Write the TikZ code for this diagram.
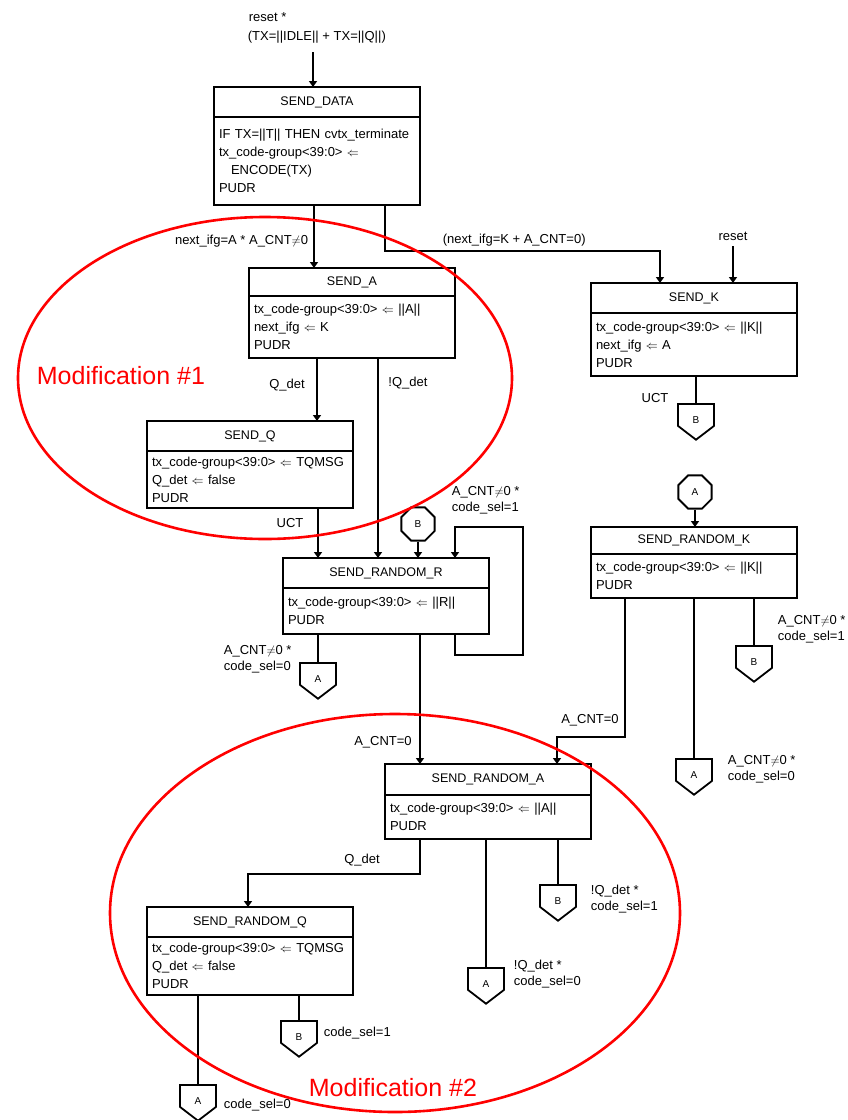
\documentclass[tikz,border=0pt]{standalone}
\usepackage{fontspec}
\setmainfont{Liberation Sans}
\usetikzlibrary{arrows.meta,shapes.geometric,shapes.symbols,positioning}

\tikzset{
  state/.style={draw, minimum width=206pt, minimum height=30pt, inner sep=0pt, outer sep=0pt,
    font=\fontsize{12.5}{14}\selectfont},
  action/.style={draw, anchor=north, text width=196pt, inner xsep=5pt, inner ysep=2pt, outer sep=0pt,
    align=left, font=\fontsize{13}{18}\selectfont},
  arr/.style={-{Triangle[width=8pt,length=6pt]}},
  cond/.style={inner sep=0pt, align=left, font=\fontsize{13}{16}\selectfont},
  offpage/.style={signal, signal to=south, signal from=nowhere, draw, anchor=north,
    minimum width=36pt, minimum height=22pt, signal pointer angle=105, inner sep=0pt,
    label={[inner sep=0pt, yshift=-5pt, font=\fontsize{10}{12}\selectfont]center:#1}},
  onpage/.style={regular polygon, regular polygon sides=8, draw, minimum size=36pt,
    inner sep=0pt, font=\fontsize{10}{12}\selectfont},
  modring/.style={draw=red, line width=2.6pt},
  modtext/.style={text=red, inner sep=0pt, font=\fontsize{25}{28}\selectfont}
}

\begin{document}
\begin{tikzpicture}[x=1pt, y=-1pt, line width=1.8pt]
    \useasboundingbox (0,0) rectangle (848,1120);

    % states
    \node[state] (sd) at (317,102) {SEND\_DATA};
    \node[action, minimum height=88pt] (sdb) at (sd.south) {IF TX=||T|| THEN cvtx\_terminate\\tx\_code-group<39:0> $\Leftarrow$\\\hspace*{12pt}ENCODE(TX)\\PUDR};

    \node[state, minimum height=28pt] (sa) at (352,282) {SEND\_A};
    \node[action, minimum height=62pt] (sab) at (sa.south) {tx\_code-group<39:0> $\Leftarrow$ ||A||\\next\_ifg $\Leftarrow$ K\\PUDR};

    \node[state] (sk) at (694,298) {SEND\_K};
    \node[action, minimum height=63pt] (skb) at (sk.south) {tx\_code-group<39:0> $\Leftarrow$ ||K||\\next\_ifg $\Leftarrow$ A\\PUDR};

    \node[state] (sq) at (250,436) {SEND\_Q};
    \node[action, minimum height=57pt] (sqb) at (sq.south) {tx\_code-group<39:0> $\Leftarrow$ TQMSG\\Q\_det $\Leftarrow$ false\\PUDR};

    \node[state] (srr) at (386,573) {SEND\_RANDOM\_R};
    \node[action, minimum height=46pt] (srrb) at (srr.south) {tx\_code-group<39:0> $\Leftarrow$ ||R||\\PUDR};

    \node[state, minimum height=27pt] (srk) at (694,540.5) {SEND\_RANDOM\_K};
    \node[action, minimum height=44pt] (srkb) at (srk.south) {tx\_code-group<39:0> $\Leftarrow$ ||K||\\PUDR};

    \node[state, minimum height=31pt] (sra) at (488,779.5) {SEND\_RANDOM\_A};
    \node[action, minimum height=44pt] (srab) at (sra.south) {tx\_code-group<39:0> $\Leftarrow$ ||A||\\PUDR};

    \node[state] (srq) at (250,922) {SEND\_RANDOM\_Q};
    \node[action, minimum height=58pt] (srqb) at (srq.south) {tx\_code-group<39:0> $\Leftarrow$ TQMSG\\Q\_det $\Leftarrow$ false\\PUDR};

    % connectors
    \node[onpage] (ob) at (418,524) {B};
    \node[onpage] (oa) at (695,492) {A};
    \node[offpage=B] (kb) at (696,403) {};
    \node[offpage=A] (ra) at (318,662) {};
    \node[offpage=B] (rkb) at (754,645) {};
    \node[offpage=A] (rka) at (694,758) {};
    \node[offpage=B] (rab) at (558,884) {};
    \node[offpage=A] (raa) at (486,967) {};
    \node[offpage=B] (rqb) at (299,1020) {};
    \node[offpage=A] (rqa) at (198,1084) {};

    % transitions
    \coordinate (rst) at (313,52);
    \draw[arr] (rst) -- (rst |- sd.north);

    \coordinate (c1) at ([xshift=-3pt]sdb.south);
    \draw[arr] (c1) -- (c1 |- sa.north);
    \coordinate (c2) at ([xshift=68pt]sdb.south);
    \coordinate (kin) at (660,251);
    \draw[arr] (c2) |- (kin) -- (kin |- sk.north);
    \coordinate (krst) at (733,246);
    \draw[arr] (krst) -- (krst |- sk.north);

    \coordinate (c3) at ([xshift=-35pt]sab.south);
    \draw[arr] (c3) -- (c3 |- sq.north);
    \coordinate (c4) at ([xshift=26pt]sab.south);
    \draw[arr] (c4) -- (c4 |- srr.north);
    \coordinate (c5) at ([xshift=68pt]sqb.south);
    \draw[arr] (c5) -- (c5 |- srr.north);
    \draw[arr] (ob.south) -- (ob.south |- srr.north);

    \coordinate (c6) at ([xshift=69pt]srrb.south);
    \coordinate (lpa) at (523,655);
    \coordinate (lpb) at (523,527);
    \draw[arr] (c6) |- (lpa) -- (lpb) -| (c6 |- srr.north);
    \draw (ra.north |- srrb.south) -- (ra.north);
    \coordinate (c8) at ([xshift=34pt]srrb.south);
    \draw[arr] (c8) -- (c8 |- sra.north);

    \draw (kb.north |- skb.south) -- (kb.north);
    \draw[arr] (oa.south) -- (oa.south |- srk.north);

    \coordinate (c9) at ([xshift=-69pt]srkb.south);
    \coordinate (kra) at (557,737);
    \draw[arr] (c9) |- (kra) -- (kra |- sra.north);
    \draw (rka.north |- srkb.south) -- (rka.north);
    \draw (rkb.north |- srkb.south) -- (rkb.north);

    \coordinate (c10) at ([xshift=-68pt]srab.south);
    \coordinate (qin) at (248,874);
    \draw[arr] (c10) |- (qin) -- (qin |- srq.north);
    \draw (raa.north |- srab.south) -- (raa.north);
    \draw (rab.north |- srab.south) -- (rab.north);
    \draw (rqa.north |- srqb.south) -- (rqa.north);
    \draw (rqb.north |- srqb.south) -- (rqb.north);

    % conditions
    \node[cond, anchor=west] (t1) at (248,17) {reset *};
    \node[cond, anchor=west] (t2) at (247,37) {(TX=||IDLE|| + TX=||Q||)};
    \node[cond, anchor=east] (t3) at (309,241) {next\_ifg=A * A\_CNT$\neq$0};
    \node[cond, anchor=west] (t4) at (442,240) {(next\_ifg=K + A\_CNT=0)};
    \node[cond] (t5) at (733,236) {reset};
    \node[cond] (t6) at (287,385) {Q\_det};
    \node[cond] (t7) at (408,383) {!Q\_det};
    \node[cond] (t8) at (655,398) {UCT};
    \node[cond] (t9) at (290,523) {UCT};
    \node[cond, anchor=north west] (t10) at (451,486) {A\_CNT$\neq$0 *\\code\_sel=1};
    \node[cond, anchor=north west] (t11) at (223,645) {A\_CNT$\neq$0 *\\code\_sel=0};
    \node[cond] (t12) at (383,742) {A\_CNT=0};
    \node[cond] (t13) at (590,720) {A\_CNT=0};
    \node[cond, anchor=north west] (t14) at (777,615) {A\_CNT$\neq$0 *\\code\_sel=1};
    \node[cond, anchor=north west] (t15) at (727,755) {A\_CNT$\neq$0 *\\code\_sel=0};
    \node[cond] (t16) at (362,860) {Q\_det};
    \node[cond, anchor=north west] (t17) at (590,884) {!Q\_det *\\code\_sel=1};
    \node[cond, anchor=north west] (t18) at (513,959) {!Q\_det *\\code\_sel=0};
    \node[cond, anchor=west] (t19) at (323,1033) {code\_sel=1};
    \node[cond, anchor=west] (t20) at (223,1105) {code\_sel=0};

    % modifications
    \draw[modring] (265,378) ellipse [x radius=247, y radius=161];
    \draw[modring] (395,913) ellipse [x radius=285, y radius=199];
    \node[modtext, anchor=west] (m1) at (36,376) {Modification \#1};
    \node[modtext, anchor=west] (m2) at (308,1088) {Modification \#2};

\end{tikzpicture}
\end{document}
